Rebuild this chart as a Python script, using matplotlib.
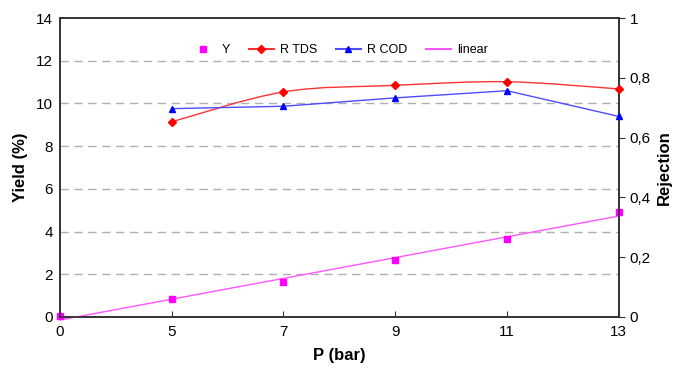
import matplotlib.pyplot as plt
import numpy as np
from matplotlib.path import Path
from matplotlib.patches import PathPatch

plt.rcParams['font.family'] = ['Liberation Sans', 'DejaVu Sans']

# data
pressure = ["0", "5", "7", "9", "11", "13"]
yield_pct = [0.03, 0.83, 1.62, 2.68, 3.67, 4.93]
r_tds = [0.653, 0.753, 0.775, 0.787, 0.763]
r_cod = [0.697, 0.705, 0.733, 0.757, 0.671]

x = np.arange(len(pressure))
xr = x[1:]

fig = plt.figure(figsize=(6.74, 3.69), dpi=100)
ax = fig.add_axes([0.089, 0.141, 0.829, 0.810])
ax2 = ax.twinx()

# left axis: yield
ax.set_xlim(0, 5)
ax.set_ylim(0, 14)
ax.set_yticks(range(0, 15, 2))
for g in range(2, 14, 2):
    ax.axhline(g, color='#b0b0b0', lw=1, ls=(0, (6, 4)), zorder=0)
ax.plot(x, yield_pct, ls='none', marker='s', ms=4, color='#ff00ff', label='Y', zorder=5, clip_on=False)
k, b = np.polyfit(x, yield_pct, 1)
ax.plot(x, k * x + b, color='#ff55ff', lw=1, label='linear', zorder=4, clip_on=False)

# right axis: rejection
ax2.set_ylim(0, 1)
ax2.set_yticks([0, 0.2, 0.4, 0.6, 0.8, 1])
ax2.set_yticklabels(['0', '0,2', '0,4', '0,6', '0,8', '1'])

# smooth red curve (Catmull-Rom as bezier)
pts = np.column_stack([xr, r_tds]).astype(float)
verts = [pts[0]]
codes = [Path.MOVETO]
for i in range(len(pts) - 1):
    p0 = pts[i - 1] if i > 0 else pts[i]
    p1, p2 = pts[i], pts[i + 1]
    p3 = pts[i + 2] if i + 2 < len(pts) else pts[i + 1]
    verts += [p1 + (p2 - p0) / 6, p2 - (p3 - p1) / 6, p2]
    codes += [Path.CURVE4] * 3
ax2.add_patch(PathPatch(Path(verts, codes), fc='none', ec='#ff3333', lw=1, zorder=3))
ax2.plot(xr, r_tds, ls='none', marker='D', ms=4, color='#ff0000', zorder=5, clip_on=False)
ax2.plot(xr, r_cod, color='#4d4dff', lw=1, marker='^', ms=5, mfc='#0000ff', mec='#0000ff',
         zorder=4, clip_on=False)

# legend
h = [
    plt.Line2D([], [], ls='none', marker='s', ms=4, color='#ff00ff'),
    plt.Line2D([], [], color='#ff3333', marker='D', ms=4, mfc='#ff0000', mec='#ff0000'),
    plt.Line2D([], [], color='#4d4dff', marker='^', ms=5, mfc='#0000ff', mec='#0000ff'),
    plt.Line2D([], [], color='#ff55ff'),
]
ax.legend(h, ['Y', 'R TDS', 'R COD', 'linear'], loc='upper center', bbox_to_anchor=(0.5, 0.95),
          ncol=4, frameon=False, fontsize=9, handlelength=2, handletextpad=0.5, columnspacing=1.5)

ax.set_xticks(x)
ax.set_xticklabels(pressure)
ax.tick_params(axis='x', direction='in', length=4, labelsize=11, pad=6, color='#333333')
ax.tick_params(axis='y', length=0, labelsize=11, pad=5)
ax2.tick_params(axis='y', direction='out', length=4, labelsize=11, pad=4, color='#333333')

for a in (ax, ax2):
    for s in a.spines.values():
        s.set_color('#333333')
        s.set_linewidth(1.2)

ax.set_xlabel('P (bar)', fontsize=12, fontweight='bold', labelpad=6)
ax.set_ylabel('Yield (%)', fontsize=12, fontweight='bold', labelpad=6)
ax2.set_ylabel('Rejection', fontsize=12, fontweight='bold', labelpad=4)

fig.savefig('out.png', dpi=100)
